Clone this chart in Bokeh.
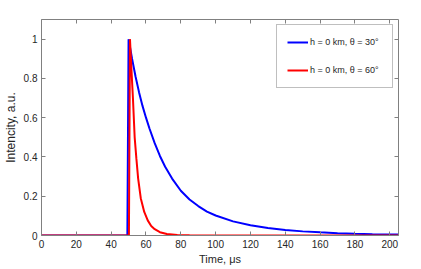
from bokeh.plotting import figure
from bokeh.models import LinearAxis, FixedTicker, CustomJSTickFormatter, Range1d, Legend, LegendItem
from bokeh.embed import file_html
from bokeh.resources import INLINE

# Data
t_30 = [0, 49.3, 50.0, 52, 54, 56, 58, 60, 62, 65, 68, 71, 75, 80, 85, 90, 95, 100,
        110, 120, 130, 140, 150, 160, 170, 180, 190, 205]
i_30 = [0, 0, 1.0, 0.90, 0.81, 0.73, 0.66, 0.60, 0.545, 0.47, 0.405, 0.35, 0.29, 0.228,
        0.183, 0.150, 0.122, 0.102, 0.072, 0.052, 0.038, 0.028, 0.021, 0.016, 0.012,
        0.009, 0.007, 0.005]

t_60 = [0, 50.2, 50.8, 51.5, 52.5, 53.5, 54.5, 55.5, 57, 59, 61, 63, 65, 68, 72, 78, 85, 100, 205]
i_60 = [0, 0, 1.0, 0.87, 0.70, 0.50, 0.39, 0.29, 0.19, 0.12, 0.077, 0.048, 0.032, 0.017,
        0.008, 0.003, 0.001, 0, 0]

x_ticks = [0, 20, 40, 60, 80, 100, 120, 140, 160, 180, 200]
y_ticks = [0, 0.2, 0.4, 0.6, 0.8, 1]
labels = ["h = 0 km, \u03b8 = 30\u00b0", "h = 0 km, \u03b8 = 60\u00b0"]

FONT = "Liberation Sans"
AXC = "#808080"
TXC = "#262626"

p = figure(frame_width=357, frame_height=216, output_backend="svg", toolbar_location=None,
           x_range=Range1d(0, 205), y_range=Range1d(0, 1.1),
           min_border_left=32, min_border_right=10, min_border_top=19, min_border_bottom=10)
p.outline_line_color = None
p.xgrid.visible = False
p.ygrid.visible = False

fmt = CustomJSTickFormatter(code="return parseFloat(tick.toFixed(2)).toString();")

def style(ax, ticks, show_labels=True):
    ax.ticker = FixedTicker(ticks=ticks)
    ax.formatter = fmt
    ax.axis_line_color = AXC
    ax.major_tick_line_color = AXC
    ax.major_tick_in = 4
    ax.major_tick_out = 0
    ax.minor_tick_line_color = None
    ax.major_label_text_font = FONT
    ax.major_label_text_font_size = "10px"
    ax.major_label_text_color = TXC
    ax.axis_label_text_font = FONT
    ax.axis_label_text_font_size = "11px"
    ax.axis_label_text_font_style = "normal"
    ax.axis_label_text_color = TXC
    if not show_labels:
        ax.major_label_text_font_size = "1px"
        ax.major_label_text_color = None
        ax.major_label_standoff = 0

style(p.xaxis[0], x_ticks)
style(p.yaxis[0], y_ticks)
p.xaxis[0].axis_label = "Time, \u03bcs"
p.yaxis[0].axis_label = "Intencity, a.u."
p.yaxis[0].axis_label_text_font_size = "12px"
p.xaxis[0].major_label_standoff = 4
p.xaxis[0].axis_label_standoff = 2
p.yaxis[0].major_label_standoff = 4
p.yaxis[0].axis_label_standoff = 3

top = LinearAxis()
style(top, x_ticks, show_labels=False)
p.add_layout(top, "above")
right = LinearAxis()
style(right, y_ticks, show_labels=False)
p.add_layout(right, "right")

r1 = p.line(t_30, i_30, line_color="#0000ff", line_width=2)
r2 = p.line(t_60, i_60, line_color="#ff0000", line_width=2)

legend = Legend(items=[LegendItem(label=labels[0], renderers=[r1]),
                       LegendItem(label=labels[1], renderers=[r2])],
                location="top_right")
legend.label_text_font = FONT
legend.label_text_font_size = "9px"
legend.label_text_color = TXC
legend.border_line_color = AXC
legend.border_line_width = 1
legend.background_fill_color = "white"
legend.padding = 10
legend.margin = 5
legend.spacing = 14
legend.glyph_width = 21
legend.glyph_height = 14
legend.label_height = 14
legend.label_standoff = 2
legend.label_width = 72
p.add_layout(legend, "center")

open("out.html", "w").write(file_html(p, INLINE))
